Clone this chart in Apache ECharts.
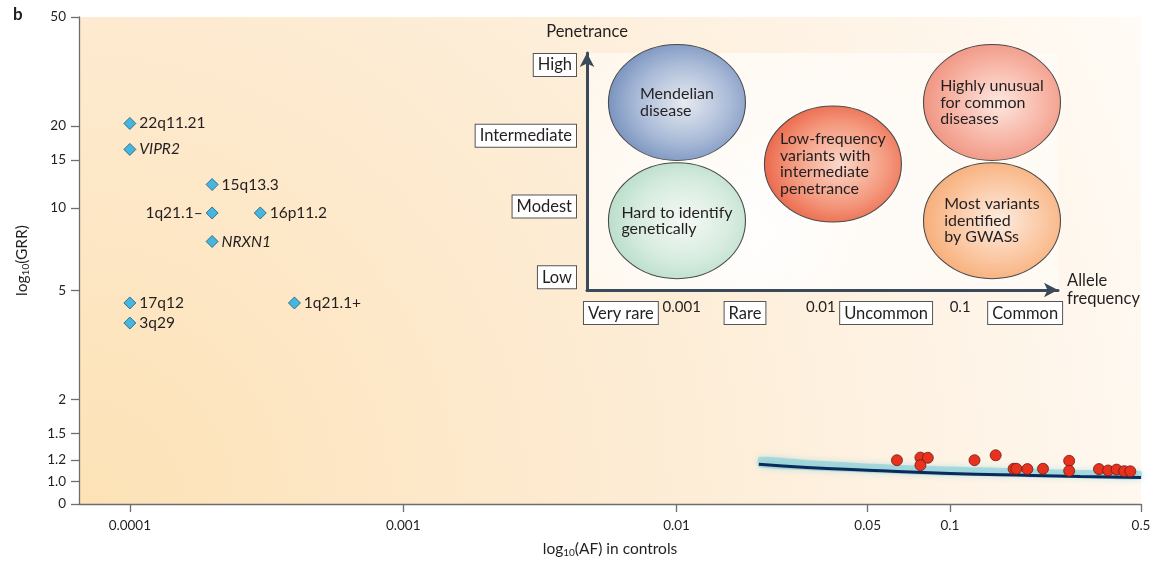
<!DOCTYPE html>
<html>
<head>
<meta charset="utf-8">
<script src="https://cdn.jsdelivr.net/npm/echarts@6/dist/echarts.min.js"></script>
<style>
  html, body { margin: 0; padding: 0; background: #fff; }
  #chart { width: 1165px; height: 563px; }
</style>
</head>
<body>
<div id="chart"></div>
<script>
// main plot ticks
const xTickValues = [0.0001, 0.001, 0.01, 0.05, 0.1, 0.5];
const xTickLabels = ['0.0001', '0.001', '0.01', '0.05', '0.1', '0.5'];
const yTickValues = [0, 1.0, 1.2, 1.5, 2, 5, 10, 15, 20, 50];
const yTickLabels = ['0', '1.0', '1.2', '1.5', '2', '5', '10', '15', '20', '50'];

// rare CNVs
const cnvNames = ['22q11.21', 'VIPR2', '15q13.3', '1q21.1–', '16p11.2', 'NRXN1', '17q12', '3q29', '1q21.1+'];
const cnvAF = [0.0001, 0.0001, 0.0002, 0.0002, 0.0003, 0.0002, 0.0001, 0.0001, 0.0004];
const cnvGRR = [20.4, 16.4, 12.2, 9.6, 9.6, 7.55, 4.5, 3.8, 4.5];
const italicNames = ['VIPR2', 'NRXN1'];
const leftLabelNames = ['1q21.1–'];

// GWAS hits
const gwasAF = [0.064, 0.078, 0.083, 0.078, 0.123, 0.147, 0.171, 0.175, 0.192, 0.219,
  0.273, 0.273, 0.351, 0.379, 0.407, 0.434, 0.457];
const gwasGRR = [1.197, 1.224, 1.222, 1.148, 1.197, 1.248, 1.114, 1.114, 1.111, 1.114,
  1.191, 1.095, 1.111, 1.098, 1.106, 1.092, 1.090];

// detectable-effect curve and SNP cloud
const curveAF = [0.02, 0.03, 0.05, 0.1, 0.2, 0.3, 0.5];
const curveGRR = [1.157, 1.126, 1.101, 1.071, 1.053, 1.044, 1.035];
const cloudTop = [1.23, 1.20, 1.165, 1.135, 1.115, 1.103, 1.093];
const cloudBottom = [1.13, 1.10, 1.078, 1.052, 1.037, 1.029, 1.022];

// inset schematic
const penetranceLevels = ['Low', 'Modest', 'Intermediate', 'High'];
const penetranceValues = [0, 1, 2, 3];
const freqClasses = ['Very rare', 'Rare', 'Uncommon', 'Common'];
const freqClassAF = [0.000366, 0.00285, 0.0294, 0.293];
const freqTickAF = [0.001, 0.01, 0.1];
const freqTickLabels = ['0.001', '0.01', '0.1'];
const zoneNames = ['Mendelian', 'Hard', 'LowFreq', 'Unusual', 'GWAS'];
const zoneText = [
  ['Mendelian', 'disease'],
  ['Hard to identify', 'genetically'],
  ['Low-frequency', 'variants with', 'intermediate', 'penetrance'],
  ['Highly unusual', 'for common', 'diseases'],
  ['Most variants', 'identified', 'by GWASs']
];
const zoneAF = [0.000925, 0.000925, 0.0122, 0.1694, 0.1694];
const zonePenetrance = [2.47, 0.8, 1.6, 2.47, 0.8];
const zoneColors = [
  ['#e6eaf1', '#a9bad7', '#6a87b8'],
  ['#f5f9f5', '#d7ecdf', '#b1dac4'],
  ['#fbd8ca', '#f49a7f', '#e9573a'],
  ['#fde7e0', '#f7b4a4', '#ee8a77'],
  ['#fdece0', '#fbc6a0', '#f5a66d']
];

const FONT = 'Lato, "Open Sans", sans-serif';
const TEXT = '#231f20';
const Y_MIN = -0.082;
const log = Math.log10;

const xTickPos = xTickValues.map(log);
const yTickPos = yTickValues.map((v) => (v === 0 ? Y_MIN : log(v)));
const freqClassPos = freqClassAF.map(log);
const freqTickPos = freqTickAF.map(log);

function nearestLabel(positions, labels, v) {
  let best = 0;
  positions.forEach((p, i) => {
    if (Math.abs(p - v) < Math.abs(positions[best] - v)) best = i;
  });
  return labels[best];
}

const subRich = {
  a: { fontSize: 15.5, fontFamily: FONT, color: TEXT, lineHeight: 18, verticalAlign: 'middle' },
  s: { fontSize: 10, fontFamily: FONT, color: TEXT, lineHeight: 9, verticalAlign: 'bottom' }
};

const boxLabel = {
  color: TEXT,
  fontFamily: FONT,
  fontSize: 16.5,
  lineHeight: 19,
  backgroundColor: '#fff',
  borderColor: '#555',
  borderWidth: 1,
  padding: [2, 4, 1, 4]
};

const chart = echarts.init(document.getElementById('chart'));

const cnvData = cnvNames.map((name, i) => ({
  name,
  value: [log(cnvAF[i]), log(cnvGRR[i])],
  label: {
    position: leftLabelNames.includes(name) ? 'left' : 'right',
    fontStyle: italicNames.includes(name) ? 'italic' : 'normal'
  }
}));

const zoneData = zoneNames.map((name, i) => ({
  name,
  value: [log(zoneAF[i]), zonePenetrance[i]],
  itemStyle: {
    color: {
      type: 'radial', x: 0.55, y: 0.5, r: 0.62,
      colorStops: [
        { offset: 0, color: zoneColors[i][0] },
        { offset: 0.55, color: zoneColors[i][1] },
        { offset: 1, color: zoneColors[i][2] }
      ]
    }
  },
  label: {
    formatter: zoneText[i].map((s) => '{l|' + s + '}').join('\n')
  }
}));

chart.setOption({
  animation: false,
  textStyle: { fontFamily: FONT },
  title: {
    text: 'b', left: 8, top: 1,
    textStyle: { fontSize: 17, fontWeight: 'bold', color: TEXT, fontFamily: FONT }
  },
  grid: [
    {
      left: 79, right: 24, top: 17, bottom: 56,
      show: true, borderWidth: 0,
      backgroundColor: {
        type: 'radial', x: 0, y: 1, r: 2.4,
        colorStops: [
          { offset: 0, color: '#fde2b6' },
          { offset: 0.4, color: '#fdeacf' },
          { offset: 0.75, color: '#fef3e5' },
          { offset: 1, color: '#fffbf6' }
        ]
      }
    },
    {
      left: 587, right: 107, top: 53, bottom: 273,
      show: true, borderWidth: 0,
      backgroundColor: {
        type: 'radial', x: 0.35, y: 0.75, r: 1.1,
        colorStops: [
          { offset: 0, color: 'rgba(255,255,255,0.95)' },
          { offset: 1, color: 'rgba(255,255,255,0.45)' }
        ]
      }
    }
  ],
  xAxis: [
    {
      type: 'value', gridIndex: 0, position: 'bottom',
      min: -4.186, max: log(0.5),
      axisLine: { show: true, onZero: false, lineStyle: { color: '#6d6e71', width: 1.3 } },
      axisTick: { show: true, customValues: xTickPos, length: 8, lineStyle: { color: '#6d6e71', width: 1.3 } },
      axisLabel: {
        customValues: xTickPos, margin: 15, fontSize: 13.5, color: TEXT, fontFamily: FONT,
        formatter: (v) => nearestLabel(xTickPos, xTickLabels, v)
      },
      splitLine: { show: false },
      name: '{a|log}{s|10}{a|(AF) in controls}',
      nameLocation: 'middle', nameGap: 36,
      nameTextStyle: { rich: subRich }
    },
    {
      type: 'value', gridIndex: 1, position: 'bottom',
      min: -3.68, max: -0.297,
      axisLine: {
        show: true, onZero: false, symbol: ['none', 'arrow'], symbolSize: [11, 14],
        lineStyle: { color: '#3b4a5b', width: 3 }
      },
      axisTick: { show: false },
      splitLine: { show: false },
      axisLabel: Object.assign({}, boxLabel, {
        customValues: freqClassPos, margin: 12,
        formatter: (v) => nearestLabel(freqClassPos, freqClasses, v)
      }),
      name: 'Allele\nfrequency',
      nameLocation: 'end', nameGap: 9,
      nameTextStyle: { align: 'left', verticalAlign: 'middle', fontSize: 16.5, lineHeight: 18, color: TEXT, fontFamily: FONT }
    },
    {
      type: 'value', gridIndex: 1, position: 'bottom', offset: 0,
      min: -3.68, max: -0.297,
      axisLine: { show: false, onZero: false },
      axisTick: { show: false },
      splitLine: { show: false },
      axisLabel: {
        customValues: freqTickPos, margin: 10, fontSize: 15, color: TEXT, fontFamily: FONT,
        formatter: (v) => nearestLabel(freqTickPos, freqTickLabels, v)
      }
    }
  ],
  yAxis: [
    {
      type: 'value', gridIndex: 0, position: 'left',
      min: Y_MIN, max: log(50),
      axisLine: { show: true, onZero: false, lineStyle: { color: '#6d6e71', width: 1.3 } },
      axisTick: { show: true, customValues: yTickPos, length: 8, lineStyle: { color: '#6d6e71', width: 1.3 } },
      axisLabel: {
        customValues: yTickPos, margin: 13, fontSize: 13.5, color: TEXT, fontFamily: FONT,
        formatter: (v) => nearestLabel(yTickPos, yTickLabels, v)
      },
      splitLine: { show: false },
      name: '{a|log}{s|10}{a|(GRR)}',
      nameLocation: 'middle', nameGap: 48,
      nameTextStyle: { rich: subRich }
    },
    {
      type: 'value', gridIndex: 1, position: 'left',
      min: -0.18, max: 3.17,
      axisLine: {
        show: true, onZero: false, symbol: ['none', 'arrow'], symbolSize: [11, 14],
        lineStyle: { color: '#3b4a5b', width: 3 }
      },
      axisTick: { show: false },
      splitLine: { show: false },
      axisLabel: Object.assign({}, boxLabel, {
        customValues: penetranceValues, margin: 11,
        formatter: (v) => nearestLabel(penetranceValues, penetranceLevels, v)
      }),
      name: 'Penetrance',
      nameLocation: 'end', nameGap: 13,
      nameTextStyle: { align: 'center', fontSize: 16.5, color: TEXT, fontFamily: FONT }
    }
  ],
  series: [
    {
      type: 'custom', xAxisIndex: 0, yAxisIndex: 0, silent: true, z: 2,
      data: [[log(curveAF[0]), log(curveGRR[0])]],
      renderItem(params, api) {
        const upper = curveAF.map((a, i) => api.coord([log(a), log(cloudTop[i])]));
        const lower = curveAF.map((a, i) => api.coord([log(a), log(cloudBottom[i])])).reverse();
        return {
          type: 'polygon',
          shape: { points: upper.concat(lower), smooth: 0.2 },
          style: { fill: 'rgba(100,198,216,0.45)', shadowBlur: 6, shadowColor: 'rgba(100,198,216,0.8)' }
        };
      }
    },
    {
      type: 'line', xAxisIndex: 0, yAxisIndex: 0, z: 3,
      data: curveAF.map((a, i) => [log(a), log(curveGRR[i])]),
      smooth: true, symbol: 'none',
      lineStyle: { color: '#0b2a5b', width: 3 }
    },
    {
      type: 'scatter', xAxisIndex: 0, yAxisIndex: 0, z: 4,
      data: gwasAF.map((a, i) => [log(a), log(gwasGRR[i])]),
      symbol: 'circle', symbolSize: 11,
      itemStyle: { color: '#e8321e', borderColor: '#6b1a12', borderWidth: 0.8, opacity: 1 }
    },
    {
      type: 'scatter', xAxisIndex: 0, yAxisIndex: 0, z: 4,
      data: cnvData,
      symbol: 'diamond', symbolSize: 12,
      itemStyle: { color: '#46b5df', borderColor: '#1d5a78', borderWidth: 0.8, opacity: 1 },
      label: { show: true, formatter: '{b}', distance: 3, fontSize: 15.5, color: TEXT, fontFamily: FONT }
    },
    {
      type: 'scatter', xAxisIndex: 1, yAxisIndex: 1, z: 5,
      data: zoneData,
      symbol: 'circle', symbolSize: [137, 116],
      itemStyle: { borderColor: '#4a4a4a', borderWidth: 1, opacity: 1 },
      label: {
        show: true, position: 'inside',
        rich: { l: { align: 'left', fontSize: 16, lineHeight: 16.5, color: TEXT, fontFamily: FONT } }
      },
      emphasis: { disabled: true }
    }
  ]
});
</script>
</body>
</html>
